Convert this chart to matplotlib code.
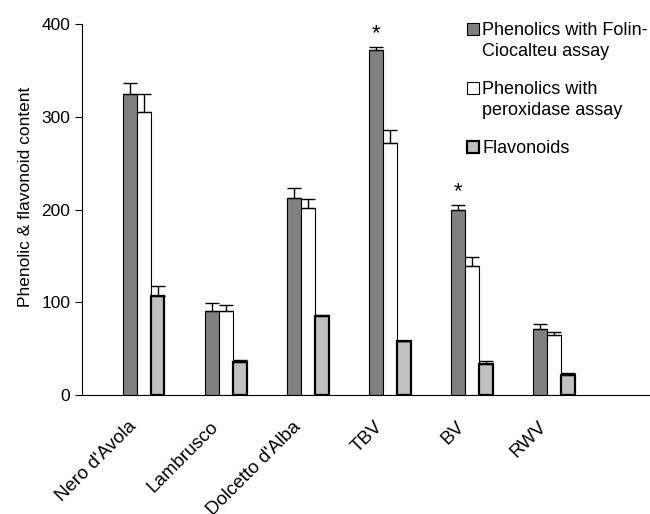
import numpy as np
import matplotlib
matplotlib.use("Agg")
from matplotlib import pyplot as plt
from matplotlib.patches import Rectangle
from matplotlib.transforms import ScaledTranslation

plt.rcParams['font.family'] = ['Liberation Sans', 'DejaVu Sans']

wines = ["Nero d'Avola", "Lambrusco", "Dolcetto d'Alba", "TBV", "BV", "RWV"]
folin = [325, 91, 212, 372, 200, 71]
folin_err = [11, 8, 11, 3, 5, 6]
perox = [305, 91, 202, 272, 139, 65]
perox_err = [19, 6, 9, 14, 10, 2.5]
flav = [107, 36, 85, 58, 33, 22]
flav_err = [11, 1.5, 1.5, 0.5, 3.5, 1.5]
starred = [3, 4]
legend_labels = [['Phenolics with Folin-', 'Ciocalteu assay'],
                 ['Phenolics with', 'peroxidase assay'],
                 ['Flavonoids']]

fig = plt.figure(figsize=(6.5, 5.14), dpi=100)
ax = fig.add_axes([82/650, 119/514, 568/650, 371/514])

x = np.arange(len(wines))
w = 0.17
ek = dict(lw=1, capthick=1, ecolor='black', capsize=5, fmt='none')
zero = np.zeros(len(wines))
styles = [dict(color='#808080', edgecolor='black', lw=0.8),
          dict(color='white', edgecolor='black', lw=0.8),
          dict(color='#c0c0c0', edgecolor='black', lw=1.6)]
series = [(folin, folin_err), (perox, perox_err), (flav, flav_err)]
for k, (vals, err) in enumerate(series):
    ax.bar(x + (k - 1) * w, vals, w, **styles[k])
    ax.errorbar(x + (k - 1) * w, vals, yerr=[zero, err], **ek)

for i in starred:
    ax.annotate('*', (x[i] - w, folin[i] + folin_err[i]), xytext=(0, 2),
                textcoords='offset points', ha='center', va='bottom', fontsize=16)

ax.set_xlim(-0.75, 6.17)
ax.set_ylim(0, 400)
ax.set_yticks([0, 100, 200, 300, 400])
ax.set_xticks(x)
ax.set_xticklabels(wines, rotation=45, ha='right', rotation_mode='anchor', fontsize=13.5)
ax.tick_params(axis='x', length=0, pad=8)
ax.tick_params(axis='y', labelsize=12.5, length=5, direction='out')
off = ScaledTranslation(-16/100, -12/100, fig.dpi_scale_trans)
for lab in ax.get_xticklabels():
    lab.set_transform(lab.get_transform() + off)
ax.set_ylabel('Phenolic & flavonoid content', fontsize=12.5)
ax.yaxis.set_label_coords(-0.086, 0.534)
ax.spines['top'].set_visible(False)
ax.spines['right'].set_visible(False)

# legend drawn by hand so the box sits next to the first line of each entry
H = 514
y = 35
for k, lines in enumerate(legend_labels):
    fig.patches.append(Rectangle((467/650, 1 - y/H), 12/650, 12/H, transform=fig.transFigure,
                                 facecolor=styles[k]['color'], edgecolor='black',
                                 lw=styles[k]['lw']))
    for j, t in enumerate(lines):
        fig.text(482/650, 1 - y/H, t, fontsize=13, ha='left', va='baseline')
        y += 21 if j < len(lines) - 1 else 0
    y += 38

fig.savefig('out.png', dpi=100)
